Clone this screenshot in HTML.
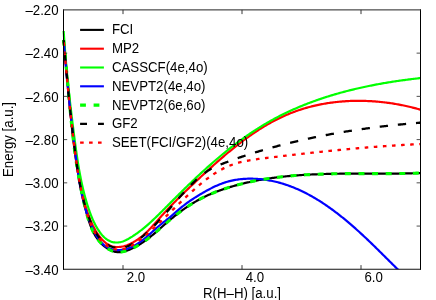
<!DOCTYPE html>
<html><head><meta charset="utf-8"><title>Chart</title><style>
html,body{margin:0;padding:0;background:#fff}
#w{position:relative;width:436px;height:300px;overflow:hidden;background:#fff}
</style></head><body><div id="w">
<svg width="436" height="300" viewBox="0 0 436 300" style="position:absolute;left:0;top:0">
<defs><clipPath id="c"><rect x="61.0" y="9.9" width="359.5" height="259.40000000000003"/></clipPath></defs>
<g clip-path="url(#c)" fill="none" stroke-width="2.2" stroke-linejoin="round">
<path d="M63.49 39.91 L63.62 41.02 L63.74 42.13 L63.86 43.25 L63.98 44.36 L64.10 45.47 L64.22 46.58 L64.34 47.69 L64.45 48.80 L64.57 49.91 L64.68 51.02 L64.79 52.13 L64.91 53.24 L65.02 54.35 L65.13 55.46 L65.24 56.56 L65.35 57.67 L65.45 58.78 L65.56 59.89 L65.67 60.99 L65.77 62.10 L65.88 63.20 L65.98 64.31 L66.09 65.41 L66.19 66.52 L66.29 67.62 L66.40 68.73 L66.50 69.83 L66.60 70.93 L66.70 72.04 L66.80 73.14 L66.90 74.24 L67.00 75.34 L67.10 76.45 L67.20 77.55 L67.30 78.65 L67.40 79.75 L67.50 80.85 L67.60 81.95 L67.70 83.05 L67.79 84.15 L67.89 85.25 L67.99 86.35 L68.09 87.45 L68.19 88.55 L68.29 89.64 L68.38 90.74 L68.48 91.84 L68.58 92.94 L68.68 94.03 L68.78 95.13 L68.88 96.23 L68.98 97.33 L69.07 98.42 L69.17 99.52 L69.27 100.61 L69.38 101.71 L69.48 102.81 L69.58 103.90 L69.68 105.00 L69.78 106.09 L69.88 107.19 L69.99 108.28 L70.09 109.37 L70.19 110.47 L70.30 111.56 L70.40 112.66 L70.51 113.75 L70.62 114.84 L70.72 115.94 L70.83 117.03 L70.94 118.12 L71.05 119.21 L71.16 120.31 L71.27 121.40 L71.38 122.49 L71.50 123.58 L71.61 124.68 L71.73 125.77 L71.84 126.86 L71.96 127.95 L72.08 129.04 L72.20 130.13 L72.32 131.23 L72.44 132.32 L72.56 133.41 L72.68 134.50 L72.81 135.59 L72.93 136.68 L73.06 137.77 L73.19 138.86 L73.32 139.95 L73.45 141.04 L73.58 142.13 L73.72 143.22 L73.85 144.31 L73.99 145.40 L74.13 146.49 L74.27 147.58 L74.41 148.67 L74.55 149.76 L74.70 150.85 L74.85 151.94 L74.99 153.03 L75.14 154.12 L75.30 155.21 L75.45 156.30 L75.60 157.39 L75.76 158.48 L75.92 159.57 L76.08 160.66 L76.24 161.75 L76.41 162.84 L76.57 163.93 L76.74 165.02 L76.91 166.11 L77.08 167.20 L77.26 168.29 L77.44 169.38 L77.61 170.47 L77.80 171.56 L77.98 172.65 L78.16 173.73 L78.35 174.82 L78.54 175.91 L78.73 177.00 L78.93 178.09 L79.12 179.18 L79.32 180.27 L79.52 181.36 L79.73 182.45 L79.93 183.54 L80.14 184.63 L80.35 185.73 L80.57 186.82 L80.79 187.91 L81.00 189.00 L81.23 190.09 L81.45 191.18 L81.68 192.27 L81.91 193.36 L82.14 194.45 L82.37 195.54 L82.61 196.63 L82.85 197.72 L83.10 198.82 L83.34 199.91 L83.59 201.00 L83.85 202.09 L84.10 203.18 L84.36 204.28 L84.62 205.37 L84.89 206.46 L85.15 207.55 L85.42 208.65 L85.70 209.74 L85.98 210.83 L86.26 211.92 L86.54 213.02 L86.83 214.11 L87.13 215.19 L87.44 216.28 L87.75 217.36 L88.07 218.44 L88.39 219.51 L88.73 220.58 L89.08 221.64 L89.43 222.70 L89.80 223.75 L90.18 224.79 L90.57 225.82 L90.97 226.85 L91.39 227.87 L91.82 228.88 L92.27 229.88 L92.73 230.87 L93.21 231.85 L93.71 232.81 L94.22 233.77 L94.75 234.71 L95.30 235.64 L95.86 236.56 L96.45 237.46 L97.06 238.35 L97.69 239.22 L98.34 240.08 L99.01 240.92 L99.71 241.74 L100.43 242.55 L101.17 243.34 L101.94 244.11 L102.73 244.86 L103.55 245.59 L104.40 246.30 L105.27 246.99 L106.17 247.65 L107.09 248.29 L108.03 248.89 L108.99 249.45 L109.97 249.97 L110.97 250.44 L111.98 250.86 L113.00 251.24 L114.03 251.55 L115.08 251.81 L116.13 252.00 L117.19 252.13 L118.26 252.18 L119.33 252.17 L120.40 252.10 L121.48 251.97 L122.55 251.79 L123.62 251.57 L124.69 251.30 L125.75 250.99 L126.81 250.64 L127.87 250.27 L128.91 249.87 L129.95 249.45 L130.97 249.01 L131.98 248.56 L132.99 248.09 L133.98 247.60 L134.96 247.10 L135.94 246.58 L136.90 246.05 L137.86 245.50 L138.81 244.94 L139.75 244.37 L140.69 243.79 L141.61 243.19 L142.53 242.58 L143.44 241.96 L144.35 241.33 L145.25 240.69 L146.14 240.04 L147.03 239.38 L147.91 238.71 L148.79 238.03 L149.66 237.35 L150.53 236.66 L151.39 235.96 L152.25 235.26 L153.11 234.55 L153.97 233.83 L154.82 233.11 L155.66 232.39 L156.51 231.66 L157.35 230.93 L158.20 230.20 L159.04 229.46 L159.88 228.73 L160.72 227.99 L161.55 227.25 L162.39 226.51 L163.23 225.77 L164.07 225.03 L164.91 224.29 L165.75 223.56 L166.59 222.82 L167.43 222.09 L168.28 221.36 L169.12 220.64 L169.97 219.92 L170.82 219.20 L171.68 218.49 L172.54 217.78 L173.40 217.08 L174.26 216.39 L175.13 215.69 L176.00 215.01 L176.87 214.32 L177.74 213.65 L178.62 212.98 L179.50 212.31 L180.39 211.65 L181.28 211.00 L182.17 210.35 L183.06 209.70 L183.96 209.07 L184.87 208.43 L185.77 207.81 L186.68 207.19 L187.59 206.58 L188.51 205.97 L189.43 205.37 L190.36 204.78 L191.29 204.19 L192.22 203.61 L193.16 203.04 L194.10 202.47 L195.04 201.91 L195.99 201.36 L196.94 200.81 L197.90 200.27 L198.86 199.74 L199.83 199.22 L200.80 198.70 L201.78 198.20 L202.76 197.69 L203.74 197.20 L204.73 196.72 L205.73 196.24 L206.73 195.77 L207.73 195.31 L208.74 194.86 L209.75 194.41 L210.77 193.98 L211.79 193.54 L212.81 193.12 L213.84 192.71 L214.87 192.30 L215.90 191.89 L216.94 191.50 L217.98 191.11 L219.02 190.73 L220.07 190.35 L221.12 189.98 L222.17 189.62 L223.22 189.26 L224.27 188.91 L225.33 188.56 L226.38 188.22 L227.44 187.88 L228.50 187.55 L229.56 187.23 L230.62 186.91 L231.68 186.59 L232.74 186.28 L233.80 185.98 L234.87 185.68 L235.93 185.38 L237.00 185.09 L238.06 184.81 L239.13 184.52 L240.20 184.25 L241.27 183.98 L242.34 183.71 L243.41 183.45 L244.48 183.19 L245.55 182.94 L246.63 182.69 L247.70 182.44 L248.77 182.20 L249.85 181.97 L250.93 181.74 L252.00 181.51 L253.08 181.29 L254.16 181.07 L255.24 180.85 L256.32 180.64 L257.40 180.44 L258.48 180.24 L259.56 180.04 L260.65 179.84 L261.73 179.65 L262.82 179.47 L263.90 179.29 L264.99 179.11 L266.07 178.93 L267.16 178.76 L268.25 178.59 L269.34 178.43 L270.42 178.27 L271.51 178.11 L272.60 177.96 L273.70 177.81 L274.79 177.67 L275.88 177.52 L276.97 177.38 L278.06 177.25 L279.16 177.12 L280.25 176.99 L281.35 176.86 L282.44 176.74 L283.54 176.62 L284.63 176.50 L285.73 176.39 L286.83 176.28 L287.92 176.17 L289.02 176.07 L290.12 175.96 L291.22 175.86 L292.32 175.77 L293.42 175.67 L294.52 175.58 L295.62 175.50 L296.72 175.41 L297.82 175.33 L298.92 175.25 L300.03 175.17 L301.13 175.10 L302.23 175.02 L303.33 174.95 L304.44 174.88 L305.54 174.82 L306.65 174.76 L307.75 174.69 L308.86 174.64 L309.96 174.58 L311.07 174.52 L312.17 174.47 L313.28 174.42 L314.39 174.37 L315.49 174.33 L316.60 174.28 L317.71 174.24 L318.81 174.20 L319.92 174.16 L321.03 174.12 L322.14 174.09 L323.24 174.05 L324.35 174.02 L325.46 173.99 L326.57 173.96 L327.68 173.94 L328.79 173.91 L329.90 173.89 L331.01 173.86 L332.11 173.84 L333.22 173.82 L334.33 173.80 L335.44 173.78 L336.55 173.77 L337.66 173.75 L338.77 173.74 L339.88 173.72 L340.99 173.71 L342.10 173.70 L343.21 173.69 L344.32 173.68 L345.43 173.67 L346.54 173.67 L347.65 173.66 L348.76 173.65 L349.87 173.65 L350.98 173.64 L352.09 173.64 L353.20 173.64 L354.31 173.63 L355.42 173.63 L356.53 173.63 L357.64 173.63 L358.75 173.63 L359.86 173.63 L360.97 173.63 L362.08 173.63 L363.19 173.63 L364.30 173.63 L365.41 173.63 L366.52 173.63 L367.62 173.63 L368.73 173.63 L369.84 173.63 L370.95 173.63 L372.06 173.63 L373.16 173.63 L374.27 173.64 L375.38 173.64 L376.48 173.64 L377.59 173.64 L378.70 173.64 L379.80 173.63 L380.91 173.63 L382.02 173.63 L383.12 173.63 L384.23 173.63 L385.33 173.62 L386.43 173.62 L387.54 173.62 L388.64 173.61 L389.75 173.61 L390.85 173.60 L391.95 173.59 L393.05 173.58 L394.16 173.57 L395.26 173.56 L396.36 173.55 L397.46 173.54 L398.56 173.53 L399.66 173.51 L400.76 173.50 L401.86 173.48 L402.96 173.47 L404.05 173.45 L405.15 173.43 L406.25 173.41 L407.35 173.38 L408.44 173.36 L409.54 173.33 L410.63 173.31 L411.73 173.28 L412.82 173.25 L413.92 173.22 L415.01 173.18 L416.10 173.15 L417.19 173.11 L418.28 173.07 L419.38 173.03 L420.47 172.99" stroke="#000" stroke-width="2.2"/>
<path d="M63.64 40.03 L63.75 41.18 L63.85 42.32 L63.95 43.47 L64.05 44.61 L64.16 45.76 L64.26 46.91 L64.36 48.06 L64.46 49.20 L64.57 50.35 L64.67 51.50 L64.77 52.65 L64.87 53.80 L64.98 54.95 L65.08 56.10 L65.18 57.25 L65.28 58.40 L65.38 59.55 L65.49 60.70 L65.59 61.85 L65.69 63.00 L65.80 64.15 L65.90 65.30 L66.00 66.45 L66.10 67.60 L66.21 68.75 L66.31 69.90 L66.42 71.05 L66.52 72.21 L66.62 73.36 L66.73 74.51 L66.83 75.66 L66.94 76.81 L67.04 77.97 L67.15 79.12 L67.26 80.27 L67.36 81.42 L67.47 82.58 L67.58 83.73 L67.68 84.88 L67.79 86.03 L67.90 87.19 L68.01 88.34 L68.12 89.49 L68.23 90.64 L68.34 91.80 L68.45 92.95 L68.56 94.10 L68.67 95.26 L68.78 96.41 L68.89 97.56 L69.01 98.71 L69.12 99.87 L69.23 101.02 L69.35 102.17 L69.46 103.33 L69.58 104.48 L69.70 105.63 L69.81 106.78 L69.93 107.93 L70.05 109.09 L70.17 110.24 L70.29 111.39 L70.41 112.54 L70.53 113.70 L70.65 114.85 L70.78 116.00 L70.90 117.15 L71.02 118.30 L71.15 119.45 L71.27 120.60 L71.40 121.76 L71.53 122.91 L71.66 124.06 L71.79 125.21 L71.92 126.36 L72.05 127.51 L72.18 128.66 L72.31 129.81 L72.45 130.96 L72.58 132.11 L72.72 133.26 L72.85 134.41 L72.99 135.55 L73.13 136.70 L73.27 137.85 L73.41 139.00 L73.55 140.15 L73.69 141.29 L73.84 142.44 L73.98 143.59 L74.13 144.73 L74.28 145.88 L74.43 147.03 L74.57 148.17 L74.73 149.32 L74.88 150.46 L75.03 151.61 L75.18 152.75 L75.34 153.90 L75.50 155.04 L75.65 156.19 L75.81 157.33 L75.97 158.47 L76.13 159.61 L76.30 160.76 L76.46 161.90 L76.63 163.04 L76.79 164.18 L76.96 165.32 L77.13 166.46 L77.31 167.60 L77.48 168.74 L77.66 169.88 L77.84 171.01 L78.03 172.15 L78.21 173.29 L78.40 174.42 L78.59 175.56 L78.79 176.69 L78.99 177.83 L79.19 178.96 L79.39 180.09 L79.60 181.22 L79.82 182.36 L80.03 183.48 L80.26 184.61 L80.48 185.74 L80.71 186.87 L80.95 187.99 L81.19 189.12 L81.44 190.24 L81.69 191.37 L81.94 192.49 L82.20 193.61 L82.47 194.73 L82.74 195.85 L83.02 196.97 L83.31 198.08 L83.60 199.20 L83.89 200.31 L84.20 201.43 L84.51 202.54 L84.82 203.65 L85.14 204.76 L85.47 205.86 L85.81 206.97 L86.16 208.08 L86.51 209.18 L86.87 210.28 L87.24 211.38 L87.61 212.48 L87.99 213.58 L88.38 214.68 L88.78 215.77 L89.19 216.86 L89.61 217.95 L90.04 219.04 L90.47 220.13 L90.93 221.21 L91.39 222.29 L91.87 223.36 L92.36 224.43 L92.86 225.49 L93.39 226.55 L93.93 227.60 L94.49 228.65 L95.07 229.68 L95.66 230.71 L96.28 231.73 L96.92 232.75 L97.59 233.75 L98.27 234.74 L98.98 235.72 L99.71 236.68 L100.47 237.62 L101.24 238.54 L102.04 239.42 L102.86 240.28 L103.69 241.10 L104.55 241.87 L105.43 242.61 L106.32 243.30 L107.23 243.94 L108.17 244.53 L109.11 245.05 L110.08 245.52 L111.06 245.92 L112.06 246.26 L113.07 246.53 L114.10 246.75 L115.14 246.90 L116.18 246.99 L117.24 247.03 L118.31 247.02 L119.38 246.95 L120.46 246.83 L121.55 246.67 L122.64 246.46 L123.73 246.20 L124.82 245.90 L125.91 245.55 L127.00 245.17 L128.08 244.75 L129.17 244.30 L130.25 243.81 L131.32 243.29 L132.38 242.74 L133.44 242.16 L134.48 241.56 L135.52 240.93 L136.54 240.28 L137.55 239.60 L138.54 238.91 L139.52 238.20 L140.48 237.48 L141.42 236.74 L142.35 235.98 L143.26 235.22 L144.15 234.44 L145.03 233.66 L145.90 232.86 L146.75 232.05 L147.59 231.24 L148.42 230.41 L149.24 229.58 L150.05 228.74 L150.85 227.90 L151.64 227.05 L152.43 226.20 L153.21 225.34 L153.99 224.48 L154.76 223.61 L155.52 222.75 L156.29 221.88 L157.05 221.02 L157.81 220.15 L158.57 219.29 L159.34 218.42 L160.10 217.56 L160.87 216.71 L161.63 215.85 L162.40 215.00 L163.18 214.15 L163.95 213.31 L164.73 212.46 L165.50 211.62 L166.28 210.79 L167.06 209.95 L167.85 209.12 L168.63 208.29 L169.42 207.46 L170.21 206.63 L171.00 205.81 L171.79 204.99 L172.59 204.17 L173.39 203.35 L174.18 202.54 L174.99 201.72 L175.79 200.91 L176.59 200.10 L177.40 199.29 L178.20 198.48 L179.01 197.68 L179.82 196.87 L180.64 196.07 L181.45 195.27 L182.26 194.47 L183.08 193.67 L183.90 192.87 L184.72 192.08 L185.54 191.28 L186.37 190.49 L187.19 189.69 L188.02 188.90 L188.85 188.11 L189.67 187.32 L190.51 186.53 L191.34 185.74 L192.17 184.95 L193.01 184.16 L193.84 183.37 L194.68 182.58 L195.52 181.79 L196.36 181.00 L197.20 180.22 L198.05 179.43 L198.89 178.64 L199.74 177.85 L200.58 177.06 L201.43 176.28 L202.28 175.49 L203.13 174.70 L203.99 173.91 L204.84 173.12 L205.70 172.34 L206.55 171.55 L207.41 170.77 L208.27 169.98 L209.13 169.20 L209.99 168.41 L210.86 167.63 L211.72 166.85 L212.59 166.07 L213.46 165.29 L214.33 164.51 L215.20 163.73 L216.07 162.95 L216.95 162.18 L217.83 161.41 L218.71 160.63 L219.59 159.86 L220.47 159.10 L221.35 158.33 L222.24 157.56 L223.12 156.80 L224.01 156.04 L224.91 155.28 L225.80 154.53 L226.69 153.77 L227.59 153.02 L228.49 152.27 L229.39 151.53 L230.29 150.78 L231.20 150.04 L232.10 149.30 L233.01 148.57 L233.92 147.84 L234.83 147.11 L235.75 146.38 L236.67 145.66 L237.59 144.94 L238.51 144.22 L239.43 143.51 L240.36 142.80 L241.28 142.09 L242.21 141.39 L243.14 140.69 L244.08 139.99 L245.02 139.30 L245.95 138.61 L246.90 137.93 L247.84 137.25 L248.79 136.58 L249.73 135.91 L250.68 135.24 L251.64 134.58 L252.59 133.92 L253.55 133.27 L254.51 132.62 L255.48 131.98 L256.44 131.34 L257.41 130.71 L258.38 130.08 L259.35 129.45 L260.33 128.84 L261.31 128.22 L262.29 127.62 L263.27 127.01 L264.26 126.42 L265.25 125.83 L266.24 125.24 L267.24 124.66 L268.23 124.09 L269.23 123.52 L270.24 122.96 L271.24 122.40 L272.25 121.85 L273.26 121.31 L274.28 120.77 L275.29 120.24 L276.31 119.71 L277.34 119.19 L278.36 118.68 L279.39 118.18 L280.42 117.68 L281.46 117.19 L282.50 116.70 L283.54 116.23 L284.58 115.75 L285.63 115.29 L286.68 114.84 L287.74 114.39 L288.79 113.95 L289.85 113.51 L290.92 113.08 L291.98 112.67 L293.05 112.26 L294.13 111.85 L295.20 111.46 L296.28 111.07 L297.36 110.69 L298.45 110.31 L299.54 109.95 L300.63 109.59 L301.72 109.24 L302.82 108.90 L303.92 108.56 L305.02 108.23 L306.12 107.91 L307.23 107.60 L308.34 107.29 L309.45 107.00 L310.56 106.71 L311.68 106.42 L312.80 106.14 L313.92 105.88 L315.04 105.61 L316.17 105.36 L317.30 105.11 L318.42 104.87 L319.56 104.64 L320.69 104.41 L321.82 104.19 L322.96 103.98 L324.10 103.78 L325.24 103.58 L326.38 103.39 L327.52 103.20 L328.67 103.03 L329.81 102.86 L330.96 102.70 L332.11 102.54 L333.26 102.39 L334.41 102.25 L335.56 102.11 L336.72 101.98 L337.87 101.86 L339.03 101.75 L340.18 101.64 L341.34 101.54 L342.50 101.45 L343.66 101.36 L344.82 101.28 L345.98 101.20 L347.14 101.13 L348.30 101.07 L349.46 101.02 L350.63 100.97 L351.79 100.93 L352.95 100.90 L354.12 100.87 L355.28 100.85 L356.45 100.83 L357.61 100.82 L358.78 100.82 L359.94 100.82 L361.11 100.83 L362.27 100.85 L363.44 100.87 L364.60 100.90 L365.76 100.94 L366.93 100.98 L368.09 101.03 L369.25 101.08 L370.42 101.14 L371.58 101.21 L372.74 101.28 L373.90 101.36 L375.06 101.45 L376.22 101.54 L377.38 101.64 L378.54 101.74 L379.70 101.85 L380.85 101.97 L382.01 102.09 L383.16 102.22 L384.32 102.35 L385.47 102.49 L386.62 102.64 L387.77 102.79 L388.92 102.95 L390.07 103.11 L391.21 103.28 L392.36 103.45 L393.50 103.63 L394.64 103.82 L395.78 104.01 L396.92 104.21 L398.06 104.41 L399.19 104.62 L400.32 104.84 L401.45 105.06 L402.58 105.29 L403.71 105.52 L404.83 105.76 L405.96 106.00 L407.08 106.25 L408.19 106.50 L409.31 106.76 L410.42 107.03 L411.54 107.30 L412.64 107.57 L413.75 107.85 L414.85 108.14 L415.96 108.43 L417.05 108.73 L418.15 109.03 L419.24 109.34 L420.33 109.65" stroke="#f00" stroke-width="2.2"/>
<path d="M63.65 30.99 L63.73 32.16 L63.80 33.32 L63.88 34.49 L63.96 35.66 L64.04 36.82 L64.12 37.99 L64.20 39.15 L64.28 40.32 L64.37 41.48 L64.45 42.65 L64.54 43.81 L64.62 44.97 L64.71 46.14 L64.80 47.30 L64.89 48.46 L64.98 49.62 L65.07 50.79 L65.16 51.95 L65.26 53.11 L65.35 54.27 L65.45 55.43 L65.54 56.59 L65.64 57.75 L65.74 58.91 L65.84 60.07 L65.94 61.23 L66.04 62.39 L66.14 63.55 L66.24 64.71 L66.35 65.87 L66.45 67.03 L66.56 68.19 L66.66 69.35 L66.77 70.51 L66.88 71.67 L66.99 72.83 L67.10 73.98 L67.21 75.14 L67.32 76.30 L67.44 77.46 L67.55 78.61 L67.67 79.77 L67.78 80.93 L67.90 82.09 L68.01 83.24 L68.13 84.40 L68.25 85.56 L68.37 86.71 L68.49 87.87 L68.61 89.03 L68.74 90.18 L68.86 91.34 L68.98 92.50 L69.11 93.65 L69.23 94.81 L69.36 95.97 L69.49 97.12 L69.61 98.28 L69.74 99.43 L69.87 100.59 L70.00 101.75 L70.13 102.90 L70.26 104.06 L70.40 105.21 L70.53 106.37 L70.66 107.53 L70.80 108.68 L70.93 109.84 L71.07 110.99 L71.21 112.15 L71.34 113.31 L71.48 114.46 L71.62 115.62 L71.76 116.77 L71.90 117.93 L72.04 119.09 L72.18 120.24 L72.32 121.40 L72.47 122.56 L72.61 123.71 L72.76 124.87 L72.90 126.02 L73.05 127.18 L73.19 128.34 L73.34 129.50 L73.49 130.65 L73.63 131.81 L73.78 132.97 L73.93 134.12 L74.08 135.28 L74.23 136.44 L74.38 137.60 L74.54 138.76 L74.69 139.91 L74.84 141.07 L75.00 142.23 L75.15 143.39 L75.31 144.55 L75.46 145.71 L75.62 146.86 L75.78 148.02 L75.94 149.18 L76.10 150.34 L76.27 151.49 L76.43 152.65 L76.60 153.81 L76.77 154.97 L76.94 156.12 L77.11 157.28 L77.28 158.43 L77.46 159.59 L77.64 160.74 L77.82 161.90 L78.00 163.05 L78.19 164.20 L78.38 165.35 L78.57 166.51 L78.77 167.66 L78.96 168.81 L79.16 169.95 L79.37 171.10 L79.57 172.25 L79.79 173.39 L80.00 174.54 L80.22 175.68 L80.44 176.83 L80.66 177.97 L80.89 179.11 L81.12 180.25 L81.36 181.39 L81.60 182.52 L81.84 183.66 L82.09 184.79 L82.35 185.93 L82.60 187.06 L82.87 188.19 L83.13 189.32 L83.40 190.45 L83.68 191.57 L83.96 192.70 L84.25 193.82 L84.54 194.94 L84.84 196.06 L85.14 197.18 L85.45 198.29 L85.76 199.41 L86.08 200.52 L86.40 201.63 L86.73 202.74 L87.07 203.84 L87.41 204.95 L87.76 206.05 L88.12 207.15 L88.48 208.24 L88.84 209.34 L89.22 210.43 L89.60 211.53 L89.99 212.61 L90.39 213.70 L90.80 214.78 L91.22 215.87 L91.65 216.95 L92.09 218.02 L92.55 219.10 L93.03 220.17 L93.52 221.24 L94.02 222.30 L94.55 223.36 L95.09 224.42 L95.65 225.48 L96.23 226.53 L96.84 227.58 L97.46 228.63 L98.11 229.67 L98.78 230.70 L99.47 231.72 L100.19 232.71 L100.93 233.68 L101.69 234.62 L102.48 235.53 L103.30 236.40 L104.14 237.23 L105.00 238.01 L105.89 238.75 L106.81 239.43 L107.75 240.05 L108.72 240.60 L109.72 241.09 L110.75 241.51 L111.80 241.85 L112.87 242.12 L113.96 242.31 L115.07 242.44 L116.18 242.50 L117.31 242.49 L118.43 242.41 L119.56 242.26 L120.68 242.05 L121.79 241.77 L122.89 241.44 L123.97 241.04 L125.04 240.59 L126.10 240.09 L127.14 239.55 L128.17 238.99 L129.19 238.40 L130.20 237.79 L131.20 237.18 L132.20 236.56 L133.18 235.92 L134.16 235.28 L135.13 234.62 L136.09 233.96 L137.04 233.28 L137.99 232.60 L138.92 231.91 L139.86 231.21 L140.78 230.50 L141.70 229.78 L142.61 229.06 L143.52 228.33 L144.42 227.59 L145.31 226.85 L146.20 226.09 L147.08 225.33 L147.96 224.57 L148.84 223.80 L149.71 223.02 L150.57 222.24 L151.43 221.46 L152.29 220.67 L153.14 219.87 L153.99 219.07 L154.84 218.27 L155.68 217.46 L156.52 216.65 L157.36 215.84 L158.20 215.02 L159.03 214.20 L159.86 213.38 L160.69 212.56 L161.52 211.73 L162.35 210.91 L163.17 210.08 L164.00 209.25 L164.82 208.42 L165.65 207.59 L166.47 206.76 L167.29 205.93 L168.12 205.10 L168.94 204.28 L169.77 203.45 L170.59 202.62 L171.42 201.79 L172.24 200.97 L173.07 200.14 L173.90 199.31 L174.72 198.49 L175.55 197.66 L176.38 196.84 L177.21 196.02 L178.04 195.20 L178.87 194.38 L179.70 193.56 L180.53 192.74 L181.36 191.92 L182.19 191.10 L183.02 190.28 L183.86 189.47 L184.69 188.65 L185.53 187.84 L186.37 187.03 L187.20 186.21 L188.04 185.40 L188.88 184.60 L189.72 183.79 L190.56 182.98 L191.40 182.18 L192.25 181.37 L193.09 180.57 L193.94 179.77 L194.78 178.97 L195.63 178.17 L196.48 177.37 L197.33 176.57 L198.18 175.78 L199.03 174.99 L199.88 174.19 L200.74 173.41 L201.60 172.62 L202.45 171.83 L203.31 171.05 L204.17 170.26 L205.03 169.48 L205.90 168.70 L206.76 167.92 L207.63 167.15 L208.50 166.37 L209.37 165.60 L210.24 164.83 L211.11 164.06 L211.98 163.29 L212.86 162.53 L213.74 161.77 L214.62 161.00 L215.50 160.25 L216.38 159.49 L217.27 158.73 L218.15 157.98 L219.04 157.23 L219.93 156.48 L220.83 155.74 L221.72 155.00 L222.62 154.25 L223.52 153.52 L224.42 152.78 L225.32 152.05 L226.22 151.31 L227.13 150.58 L228.04 149.86 L228.95 149.13 L229.86 148.41 L230.78 147.69 L231.70 146.98 L232.62 146.26 L233.54 145.55 L234.46 144.84 L235.39 144.14 L236.32 143.44 L237.25 142.74 L238.18 142.04 L239.12 141.35 L240.06 140.66 L241.00 139.97 L241.94 139.29 L242.88 138.61 L243.83 137.93 L244.78 137.25 L245.73 136.58 L246.68 135.92 L247.64 135.25 L248.60 134.59 L249.56 133.93 L250.52 133.28 L251.49 132.63 L252.45 131.98 L253.42 131.34 L254.40 130.70 L255.37 130.07 L256.35 129.44 L257.33 128.81 L258.31 128.19 L259.29 127.57 L260.28 126.95 L261.27 126.34 L262.26 125.74 L263.25 125.13 L264.25 124.53 L265.25 123.94 L266.25 123.35 L267.26 122.76 L268.26 122.18 L269.27 121.61 L270.28 121.03 L271.30 120.47 L272.31 119.90 L273.33 119.35 L274.35 118.79 L275.38 118.24 L276.40 117.70 L277.43 117.16 L278.46 116.62 L279.49 116.09 L280.53 115.56 L281.57 115.04 L282.61 114.52 L283.65 114.01 L284.69 113.50 L285.74 112.99 L286.79 112.49 L287.84 111.99 L288.89 111.50 L289.95 111.01 L291.00 110.53 L292.06 110.05 L293.13 109.57 L294.19 109.10 L295.25 108.64 L296.32 108.17 L297.39 107.71 L298.46 107.26 L299.53 106.81 L300.61 106.36 L301.69 105.92 L302.76 105.48 L303.84 105.04 L304.93 104.61 L306.01 104.19 L307.10 103.76 L308.18 103.34 L309.27 102.93 L310.36 102.52 L311.46 102.11 L312.55 101.71 L313.64 101.31 L314.74 100.91 L315.84 100.52 L316.94 100.13 L318.04 99.75 L319.14 99.37 L320.25 98.99 L321.35 98.62 L322.46 98.25 L323.57 97.88 L324.68 97.52 L325.79 97.16 L326.90 96.80 L328.02 96.45 L329.13 96.10 L330.25 95.76 L331.37 95.42 L332.49 95.08 L333.61 94.75 L334.73 94.42 L335.85 94.09 L336.97 93.76 L338.10 93.44 L339.22 93.13 L340.35 92.81 L341.48 92.50 L342.61 92.20 L343.74 91.89 L344.87 91.59 L346.00 91.30 L347.13 91.00 L348.26 90.71 L349.40 90.42 L350.53 90.14 L351.67 89.86 L352.80 89.58 L353.94 89.31 L355.08 89.03 L356.22 88.77 L357.36 88.50 L358.50 88.24 L359.64 87.98 L360.78 87.72 L361.92 87.47 L363.06 87.22 L364.21 86.97 L365.35 86.73 L366.49 86.49 L367.64 86.25 L368.78 86.01 L369.93 85.78 L371.07 85.55 L372.22 85.32 L373.36 85.10 L374.51 84.88 L375.66 84.66 L376.81 84.44 L377.95 84.23 L379.10 84.02 L380.25 83.81 L381.40 83.61 L382.55 83.40 L383.69 83.20 L384.84 83.01 L385.99 82.81 L387.14 82.62 L388.29 82.43 L389.44 82.24 L390.59 82.06 L391.74 81.88 L392.88 81.70 L394.03 81.52 L395.18 81.35 L396.33 81.17 L397.48 81.00 L398.63 80.84 L399.78 80.67 L400.92 80.51 L402.07 80.35 L403.22 80.19 L404.37 80.04 L405.51 79.88 L406.66 79.73 L407.81 79.58 L408.95 79.44 L410.10 79.29 L411.24 79.15 L412.39 79.01 L413.53 78.87 L414.67 78.74 L415.82 78.60 L416.96 78.47 L418.10 78.34 L419.24 78.21 L420.38 78.09" stroke="#0f0" stroke-width="2.2"/>
<path d="M63.72 40.04 L63.81 41.18 L63.89 42.32 L63.98 43.47 L64.07 44.61 L64.15 45.76 L64.24 46.90 L64.33 48.05 L64.42 49.19 L64.51 50.34 L64.60 51.48 L64.69 52.63 L64.79 53.77 L64.88 54.92 L64.98 56.07 L65.07 57.22 L65.17 58.36 L65.26 59.51 L65.36 60.66 L65.46 61.81 L65.56 62.96 L65.66 64.10 L65.76 65.25 L65.86 66.40 L65.96 67.55 L66.07 68.70 L66.17 69.85 L66.28 71.00 L66.38 72.15 L66.49 73.30 L66.59 74.45 L66.70 75.60 L66.81 76.75 L66.92 77.91 L67.03 79.06 L67.14 80.21 L67.25 81.36 L67.36 82.51 L67.47 83.66 L67.58 84.81 L67.70 85.97 L67.81 87.12 L67.93 88.27 L68.04 89.42 L68.16 90.57 L68.27 91.73 L68.39 92.88 L68.51 94.03 L68.63 95.18 L68.75 96.33 L68.87 97.49 L68.99 98.64 L69.11 99.79 L69.23 100.94 L69.35 102.09 L69.48 103.25 L69.60 104.40 L69.72 105.55 L69.85 106.70 L69.98 107.85 L70.10 109.01 L70.23 110.16 L70.36 111.31 L70.48 112.46 L70.61 113.61 L70.74 114.76 L70.87 115.91 L71.00 117.07 L71.13 118.22 L71.26 119.37 L71.39 120.52 L71.53 121.67 L71.66 122.82 L71.79 123.97 L71.93 125.12 L72.06 126.27 L72.20 127.42 L72.33 128.57 L72.47 129.72 L72.61 130.86 L72.74 132.01 L72.88 133.16 L73.02 134.31 L73.16 135.46 L73.30 136.61 L73.44 137.75 L73.58 138.90 L73.72 140.05 L73.86 141.19 L74.00 142.34 L74.14 143.49 L74.29 144.63 L74.43 145.78 L74.57 146.92 L74.72 148.07 L74.86 149.21 L75.01 150.36 L75.15 151.50 L75.30 152.64 L75.45 153.79 L75.59 154.93 L75.74 156.07 L75.89 157.21 L76.04 158.35 L76.19 159.49 L76.33 160.63 L76.48 161.77 L76.63 162.91 L76.79 164.05 L76.94 165.19 L77.09 166.33 L77.25 167.47 L77.40 168.60 L77.56 169.74 L77.72 170.88 L77.88 172.01 L78.05 173.15 L78.21 174.28 L78.38 175.42 L78.55 176.55 L78.73 177.68 L78.91 178.82 L79.09 179.95 L79.27 181.08 L79.46 182.21 L79.65 183.34 L79.85 184.47 L80.05 185.60 L80.25 186.73 L80.46 187.85 L80.68 188.98 L80.90 190.11 L81.12 191.23 L81.35 192.36 L81.58 193.48 L81.82 194.60 L82.07 195.73 L82.32 196.85 L82.58 197.97 L82.84 199.09 L83.11 200.21 L83.39 201.33 L83.67 202.45 L83.96 203.56 L84.26 204.68 L84.57 205.80 L84.88 206.91 L85.20 208.02 L85.53 209.14 L85.86 210.25 L86.21 211.36 L86.56 212.47 L86.92 213.58 L87.29 214.69 L87.67 215.80 L88.05 216.91 L88.45 218.01 L88.86 219.12 L89.27 220.22 L89.70 221.33 L90.13 222.43 L90.58 223.53 L91.03 224.63 L91.50 225.73 L91.98 226.83 L92.46 227.93 L92.96 229.02 L93.47 230.11 L94.00 231.19 L94.54 232.26 L95.09 233.33 L95.66 234.37 L96.25 235.41 L96.85 236.42 L97.47 237.42 L98.11 238.39 L98.78 239.34 L99.46 240.26 L100.16 241.15 L100.89 242.01 L101.64 242.84 L102.41 243.63 L103.21 244.39 L104.04 245.11 L104.89 245.78 L105.77 246.42 L106.68 247.00 L107.62 247.54 L108.59 248.03 L109.59 248.47 L110.62 248.85 L111.69 249.17 L112.77 249.45 L113.88 249.67 L115.01 249.84 L116.15 249.96 L117.31 250.03 L118.46 250.05 L119.62 250.02 L120.78 249.95 L121.93 249.84 L123.06 249.68 L124.19 249.48 L125.30 249.24 L126.40 248.95 L127.48 248.63 L128.55 248.28 L129.61 247.89 L130.66 247.46 L131.69 247.00 L132.72 246.52 L133.73 246.00 L134.74 245.45 L135.73 244.88 L136.72 244.29 L137.69 243.67 L138.66 243.02 L139.62 242.36 L140.57 241.68 L141.52 240.98 L142.46 240.26 L143.39 239.53 L144.31 238.79 L145.23 238.03 L146.15 237.27 L147.06 236.49 L147.96 235.71 L148.86 234.92 L149.76 234.13 L150.65 233.33 L151.54 232.53 L152.43 231.74 L153.32 230.94 L154.20 230.15 L155.08 229.35 L155.97 228.57 L156.85 227.79 L157.73 227.02 L158.61 226.26 L159.50 225.52 L160.38 224.78 L161.27 224.06 L162.15 223.35 L163.04 222.65 L163.93 221.95 L164.81 221.26 L165.70 220.58 L166.58 219.89 L167.46 219.20 L168.34 218.50 L169.21 217.80 L170.08 217.09 L170.95 216.37 L171.81 215.65 L172.67 214.91 L173.53 214.17 L174.39 213.43 L175.25 212.68 L176.10 211.93 L176.97 211.18 L177.83 210.42 L178.70 209.67 L179.57 208.93 L180.44 208.18 L181.32 207.44 L182.21 206.71 L183.11 205.98 L184.01 205.27 L184.92 204.56 L185.84 203.86 L186.77 203.17 L187.71 202.49 L188.66 201.82 L189.61 201.15 L190.57 200.50 L191.53 199.85 L192.50 199.21 L193.47 198.57 L194.45 197.94 L195.44 197.32 L196.42 196.70 L197.41 196.09 L198.41 195.48 L199.40 194.88 L200.40 194.28 L201.40 193.69 L202.40 193.10 L203.40 192.52 L204.40 191.94 L205.41 191.37 L206.42 190.80 L207.43 190.25 L208.45 189.70 L209.47 189.16 L210.49 188.63 L211.52 188.11 L212.55 187.59 L213.58 187.09 L214.61 186.60 L215.66 186.12 L216.70 185.65 L217.75 185.20 L218.81 184.75 L219.86 184.32 L220.93 183.91 L222.00 183.51 L223.07 183.12 L224.15 182.75 L225.24 182.39 L226.33 182.05 L227.43 181.73 L228.53 181.42 L229.64 181.14 L230.76 180.86 L231.88 180.61 L233.01 180.37 L234.14 180.15 L235.27 179.95 L236.41 179.76 L237.56 179.58 L238.70 179.43 L239.85 179.28 L241.01 179.16 L242.16 179.05 L243.32 178.95 L244.48 178.87 L245.65 178.80 L246.81 178.75 L247.98 178.72 L249.14 178.69 L250.31 178.68 L251.48 178.69 L252.65 178.71 L253.82 178.74 L254.98 178.79 L256.15 178.85 L257.32 178.92 L258.48 179.01 L259.65 179.11 L260.81 179.22 L261.97 179.34 L263.13 179.48 L264.28 179.63 L265.43 179.79 L266.58 179.96 L267.72 180.14 L268.87 180.34 L270.00 180.55 L271.14 180.77 L272.27 181.00 L273.40 181.24 L274.52 181.49 L275.64 181.75 L276.76 182.02 L277.87 182.31 L278.98 182.60 L280.09 182.91 L281.19 183.22 L282.29 183.55 L283.39 183.88 L284.48 184.23 L285.57 184.59 L286.66 184.95 L287.74 185.33 L288.82 185.71 L289.90 186.10 L290.97 186.51 L292.04 186.92 L293.11 187.34 L294.17 187.77 L295.23 188.21 L296.29 188.65 L297.34 189.11 L298.39 189.57 L299.43 190.04 L300.48 190.52 L301.52 191.01 L302.55 191.51 L303.58 192.01 L304.61 192.53 L305.64 193.05 L306.66 193.57 L307.68 194.11 L308.70 194.65 L309.71 195.20 L310.72 195.75 L311.72 196.32 L312.73 196.88 L313.72 197.46 L314.72 198.04 L315.71 198.63 L316.70 199.23 L317.69 199.83 L318.67 200.44 L319.65 201.05 L320.62 201.67 L321.60 202.29 L322.57 202.92 L323.53 203.56 L324.50 204.20 L325.45 204.85 L326.41 205.50 L327.36 206.16 L328.31 206.82 L329.26 207.48 L330.20 208.15 L331.14 208.83 L332.08 209.51 L333.01 210.19 L333.94 210.88 L334.87 211.58 L335.79 212.27 L336.71 212.97 L337.63 213.68 L338.54 214.38 L339.45 215.09 L340.36 215.81 L341.26 216.53 L342.16 217.25 L343.06 217.97 L343.96 218.70 L344.85 219.43 L345.74 220.17 L346.63 220.90 L347.51 221.64 L348.39 222.39 L349.27 223.13 L350.15 223.88 L351.02 224.63 L351.89 225.39 L352.76 226.15 L353.63 226.91 L354.50 227.67 L355.36 228.43 L356.22 229.20 L357.08 229.97 L357.93 230.74 L358.79 231.52 L359.64 232.29 L360.49 233.07 L361.34 233.85 L362.18 234.63 L363.03 235.42 L363.87 236.20 L364.71 236.99 L365.56 237.78 L366.39 238.57 L367.23 239.37 L368.07 240.16 L368.90 240.96 L369.73 241.76 L370.57 242.56 L371.40 243.36 L372.23 244.16 L373.06 244.96 L373.88 245.77 L374.71 246.57 L375.54 247.38 L376.36 248.18 L377.18 248.99 L378.01 249.80 L378.83 250.61 L379.65 251.42 L380.47 252.23 L381.29 253.05 L382.12 253.86 L382.94 254.67 L383.75 255.48 L384.57 256.30 L385.39 257.11 L386.21 257.93 L387.03 258.74 L387.85 259.56 L388.67 260.37 L389.49 261.19 L390.30 262.00 L391.12 262.82 L391.94 263.63 L392.76 264.45 L393.58 265.26 L394.40 266.07 L395.22 266.89 L396.04 267.70 L396.86 268.51 L397.68 269.32 L398.51 270.14 L399.33 270.95 L400.15 271.76 L400.98 272.56 L401.80 273.37 L402.63 274.18 L403.45 274.99 L404.28 275.79 L405.11 276.59 L405.94 277.40 L406.77 278.20 L407.60 279.00 L408.44 279.80 L409.27 280.60 L410.11 281.39" stroke="#00f" stroke-width="2.2"/>
<path d="M63.49 39.91 L63.62 41.02 L63.74 42.13 L63.86 43.25 L63.98 44.36 L64.10 45.47 L64.22 46.58 L64.34 47.69 L64.45 48.80 L64.57 49.91 L64.68 51.02 L64.79 52.13 L64.91 53.24 L65.02 54.35 L65.13 55.46 L65.24 56.56 L65.35 57.67 L65.45 58.78 L65.56 59.89 L65.67 60.99 L65.77 62.10 L65.88 63.20 L65.98 64.31 L66.09 65.41 L66.19 66.52 L66.29 67.62 L66.40 68.73 L66.50 69.83 L66.60 70.93 L66.70 72.04 L66.80 73.14 L66.90 74.24 L67.00 75.34 L67.10 76.45 L67.20 77.55 L67.30 78.65 L67.40 79.75 L67.50 80.85 L67.60 81.95 L67.70 83.05 L67.79 84.15 L67.89 85.25 L67.99 86.35 L68.09 87.45 L68.19 88.55 L68.29 89.64 L68.38 90.74 L68.48 91.84 L68.58 92.94 L68.68 94.03 L68.78 95.13 L68.88 96.23 L68.98 97.33 L69.07 98.42 L69.17 99.52 L69.27 100.61 L69.38 101.71 L69.48 102.81 L69.58 103.90 L69.68 105.00 L69.78 106.09 L69.88 107.19 L69.99 108.28 L70.09 109.37 L70.19 110.47 L70.30 111.56 L70.40 112.66 L70.51 113.75 L70.62 114.84 L70.72 115.94 L70.83 117.03 L70.94 118.12 L71.05 119.21 L71.16 120.31 L71.27 121.40 L71.38 122.49 L71.50 123.58 L71.61 124.68 L71.73 125.77 L71.84 126.86 L71.96 127.95 L72.08 129.04 L72.20 130.13 L72.32 131.23 L72.44 132.32 L72.56 133.41 L72.68 134.50 L72.81 135.59 L72.93 136.68 L73.06 137.77 L73.19 138.86 L73.32 139.95 L73.45 141.04 L73.58 142.13 L73.72 143.22 L73.85 144.31 L73.99 145.40 L74.13 146.49 L74.27 147.58 L74.41 148.67 L74.55 149.76 L74.70 150.85 L74.85 151.94 L74.99 153.03 L75.14 154.12 L75.30 155.21 L75.45 156.30 L75.60 157.39 L75.76 158.48 L75.92 159.57 L76.08 160.66 L76.24 161.75 L76.41 162.84 L76.57 163.93 L76.74 165.02 L76.91 166.11 L77.08 167.20 L77.26 168.29 L77.44 169.38 L77.61 170.47 L77.80 171.56 L77.98 172.65 L78.16 173.73 L78.35 174.82 L78.54 175.91 L78.73 177.00 L78.93 178.09 L79.12 179.18 L79.32 180.27 L79.52 181.36 L79.73 182.45 L79.93 183.54 L80.14 184.63 L80.35 185.73 L80.57 186.82 L80.79 187.91 L81.00 189.00 L81.23 190.09 L81.45 191.18 L81.68 192.27 L81.91 193.36 L82.14 194.45 L82.37 195.54 L82.61 196.63 L82.85 197.72 L83.10 198.82 L83.34 199.91 L83.59 201.00 L83.85 202.09 L84.10 203.18 L84.36 204.28 L84.62 205.37 L84.89 206.46 L85.15 207.55 L85.42 208.65 L85.70 209.74 L85.98 210.83 L86.26 211.92 L86.54 213.02 L86.83 214.11 L87.13 215.19 L87.44 216.28 L87.75 217.36 L88.07 218.44 L88.39 219.51 L88.73 220.58 L89.08 221.64 L89.43 222.70 L89.80 223.75 L90.18 224.79 L90.57 225.82 L90.97 226.85 L91.39 227.87 L91.82 228.88 L92.27 229.88 L92.73 230.87 L93.21 231.85 L93.71 232.81 L94.22 233.77 L94.75 234.71 L95.30 235.64 L95.86 236.56 L96.45 237.46 L97.06 238.35 L97.69 239.22 L98.34 240.08 L99.01 240.92 L99.71 241.74 L100.43 242.55 L101.17 243.34 L101.94 244.11 L102.73 244.86 L103.55 245.59 L104.40 246.30 L105.27 246.99 L106.17 247.65 L107.09 248.29 L108.03 248.89 L108.99 249.45 L109.97 249.97 L110.97 250.44 L111.98 250.86 L113.00 251.24 L114.03 251.55 L115.08 251.81 L116.13 252.00 L117.19 252.13 L118.26 252.18 L119.33 252.17 L120.40 252.10 L121.48 251.97 L122.55 251.79 L123.62 251.57 L124.69 251.30 L125.75 250.99 L126.81 250.64 L127.87 250.27 L128.91 249.87 L129.95 249.45 L130.97 249.01 L131.98 248.56 L132.99 248.09 L133.98 247.60 L134.96 247.10 L135.94 246.58 L136.90 246.05 L137.86 245.50 L138.81 244.94 L139.75 244.37 L140.69 243.79 L141.61 243.19 L142.53 242.58 L143.44 241.96 L144.35 241.33 L145.25 240.69 L146.14 240.04 L147.03 239.38 L147.91 238.71 L148.79 238.03 L149.66 237.35 L150.53 236.66 L151.39 235.96 L152.25 235.26 L153.11 234.55 L153.97 233.83 L154.82 233.11 L155.66 232.39 L156.51 231.66 L157.35 230.93 L158.20 230.20 L159.04 229.46 L159.88 228.73 L160.72 227.99 L161.55 227.25 L162.39 226.51 L163.23 225.77 L164.07 225.03 L164.91 224.29 L165.75 223.56 L166.59 222.82 L167.43 222.09 L168.28 221.36 L169.12 220.64 L169.97 219.92 L170.82 219.20 L171.68 218.49 L172.54 217.78 L173.40 217.08 L174.26 216.39 L175.13 215.69 L176.00 215.01 L176.87 214.32 L177.74 213.65 L178.62 212.98 L179.50 212.31 L180.39 211.65 L181.28 211.00 L182.17 210.35 L183.06 209.70 L183.96 209.07 L184.87 208.43 L185.77 207.81 L186.68 207.19 L187.59 206.58 L188.51 205.97 L189.43 205.37 L190.36 204.78 L191.29 204.19 L192.22 203.61 L193.16 203.04 L194.10 202.47 L195.04 201.91 L195.99 201.36 L196.94 200.81 L197.90 200.27 L198.86 199.74 L199.83 199.22 L200.80 198.70 L201.78 198.20 L202.76 197.69 L203.74 197.20 L204.73 196.72 L205.73 196.24 L206.73 195.77 L207.73 195.31 L208.74 194.86 L209.75 194.41 L210.77 193.98 L211.79 193.54 L212.81 193.12 L213.84 192.71 L214.87 192.30 L215.90 191.89 L216.94 191.50 L217.98 191.11 L219.02 190.73 L220.07 190.35 L221.12 189.98 L222.17 189.62 L223.22 189.26 L224.27 188.91 L225.33 188.56 L226.38 188.22 L227.44 187.88 L228.50 187.55 L229.56 187.23 L230.62 186.91 L231.68 186.59 L232.74 186.28 L233.80 185.98 L234.87 185.68 L235.93 185.38 L237.00 185.09 L238.06 184.81 L239.13 184.52 L240.20 184.25 L241.27 183.98 L242.34 183.71 L243.41 183.45 L244.48 183.19 L245.55 182.94 L246.63 182.69 L247.70 182.44 L248.77 182.20 L249.85 181.97 L250.93 181.74 L252.00 181.51 L253.08 181.29 L254.16 181.07 L255.24 180.85 L256.32 180.64 L257.40 180.44 L258.48 180.24 L259.56 180.04 L260.65 179.84 L261.73 179.65 L262.82 179.47 L263.90 179.29 L264.99 179.11 L266.07 178.93 L267.16 178.76 L268.25 178.59 L269.34 178.43 L270.42 178.27 L271.51 178.11 L272.60 177.96 L273.70 177.81 L274.79 177.67 L275.88 177.52 L276.97 177.38 L278.06 177.25 L279.16 177.12 L280.25 176.99 L281.35 176.86 L282.44 176.74 L283.54 176.62 L284.63 176.50 L285.73 176.39 L286.83 176.28 L287.92 176.17 L289.02 176.07 L290.12 175.96 L291.22 175.86 L292.32 175.77 L293.42 175.67 L294.52 175.58 L295.62 175.50 L296.72 175.41 L297.82 175.33 L298.92 175.25 L300.03 175.17 L301.13 175.10 L302.23 175.02 L303.33 174.95 L304.44 174.88 L305.54 174.82 L306.65 174.76 L307.75 174.69 L308.86 174.64 L309.96 174.58 L311.07 174.52 L312.17 174.47 L313.28 174.42 L314.39 174.37 L315.49 174.33 L316.60 174.28 L317.71 174.24 L318.81 174.20 L319.92 174.16 L321.03 174.12 L322.14 174.09 L323.24 174.05 L324.35 174.02 L325.46 173.99 L326.57 173.96 L327.68 173.94 L328.79 173.91 L329.90 173.89 L331.01 173.86 L332.11 173.84 L333.22 173.82 L334.33 173.80 L335.44 173.78 L336.55 173.77 L337.66 173.75 L338.77 173.74 L339.88 173.72 L340.99 173.71 L342.10 173.70 L343.21 173.69 L344.32 173.68 L345.43 173.67 L346.54 173.67 L347.65 173.66 L348.76 173.65 L349.87 173.65 L350.98 173.64 L352.09 173.64 L353.20 173.64 L354.31 173.63 L355.42 173.63 L356.53 173.63 L357.64 173.63 L358.75 173.63 L359.86 173.63 L360.97 173.63 L362.08 173.63 L363.19 173.63 L364.30 173.63 L365.41 173.63 L366.52 173.63 L367.62 173.63 L368.73 173.63 L369.84 173.63 L370.95 173.63 L372.06 173.63 L373.16 173.63 L374.27 173.64 L375.38 173.64 L376.48 173.64 L377.59 173.64 L378.70 173.64 L379.80 173.63 L380.91 173.63 L382.02 173.63 L383.12 173.63 L384.23 173.63 L385.33 173.62 L386.43 173.62 L387.54 173.62 L388.64 173.61 L389.75 173.61 L390.85 173.60 L391.95 173.59 L393.05 173.58 L394.16 173.57 L395.26 173.56 L396.36 173.55 L397.46 173.54 L398.56 173.53 L399.66 173.51 L400.76 173.50 L401.86 173.48 L402.96 173.47 L404.05 173.45 L405.15 173.43 L406.25 173.41 L407.35 173.38 L408.44 173.36 L409.54 173.33 L410.63 173.31 L411.73 173.28 L412.82 173.25 L413.92 173.22 L415.01 173.18 L416.10 173.15 L417.19 173.11 L418.28 173.07 L419.38 173.03 L420.47 172.99" stroke="#0f0" stroke-width="3.1" stroke-dasharray="6 7.6" stroke-dashoffset="0.3"/>
<path d="M63.69 40.09 L63.78 41.20 L63.87 42.31 L63.96 43.42 L64.05 44.53 L64.14 45.64 L64.24 46.75 L64.33 47.86 L64.42 48.97 L64.52 50.09 L64.61 51.20 L64.71 52.32 L64.80 53.44 L64.90 54.55 L64.99 55.67 L65.09 56.79 L65.19 57.91 L65.28 59.03 L65.38 60.15 L65.48 61.28 L65.58 62.40 L65.68 63.52 L65.78 64.65 L65.88 65.77 L65.98 66.90 L66.08 68.02 L66.18 69.15 L66.28 70.27 L66.38 71.40 L66.49 72.53 L66.59 73.66 L66.69 74.79 L66.80 75.92 L66.90 77.05 L67.01 78.18 L67.11 79.31 L67.22 80.44 L67.33 81.57 L67.43 82.70 L67.54 83.83 L67.65 84.96 L67.76 86.10 L67.87 87.23 L67.98 88.36 L68.09 89.49 L68.20 90.63 L68.31 91.76 L68.42 92.89 L68.53 94.03 L68.65 95.16 L68.76 96.30 L68.88 97.43 L68.99 98.56 L69.11 99.70 L69.22 100.83 L69.34 101.97 L69.45 103.10 L69.57 104.23 L69.69 105.37 L69.81 106.50 L69.93 107.64 L70.05 108.77 L70.17 109.90 L70.29 111.04 L70.41 112.17 L70.53 113.30 L70.66 114.44 L70.78 115.57 L70.90 116.70 L71.03 117.83 L71.15 118.96 L71.28 120.10 L71.41 121.23 L71.53 122.36 L71.66 123.49 L71.79 124.62 L71.92 125.75 L72.05 126.88 L72.18 128.01 L72.31 129.14 L72.44 130.26 L72.58 131.39 L72.71 132.52 L72.84 133.64 L72.98 134.77 L73.11 135.90 L73.25 137.02 L73.38 138.14 L73.52 139.27 L73.66 140.39 L73.80 141.51 L73.94 142.63 L74.08 143.76 L74.22 144.88 L74.36 146.00 L74.50 147.11 L74.65 148.23 L74.79 149.35 L74.93 150.46 L75.08 151.58 L75.22 152.69 L75.37 153.81 L75.52 154.92 L75.67 156.03 L75.81 157.14 L75.96 158.25 L76.11 159.36 L76.27 160.47 L76.42 161.58 L76.57 162.68 L76.72 163.79 L76.88 164.89 L77.04 166.00 L77.19 167.10 L77.35 168.20 L77.52 169.30 L77.68 170.40 L77.85 171.50 L78.02 172.60 L78.19 173.70 L78.36 174.80 L78.54 175.90 L78.72 177.00 L78.90 178.10 L79.09 179.19 L79.28 180.29 L79.47 181.39 L79.67 182.48 L79.87 183.58 L80.08 184.68 L80.29 185.77 L80.50 186.87 L80.72 187.96 L80.95 189.06 L81.17 190.16 L81.41 191.25 L81.65 192.35 L81.89 193.45 L82.14 194.54 L82.40 195.64 L82.66 196.74 L82.93 197.84 L83.21 198.94 L83.49 200.04 L83.78 201.14 L84.07 202.24 L84.37 203.34 L84.68 204.44 L85.00 205.54 L85.32 206.65 L85.65 207.75 L85.99 208.86 L86.34 209.96 L86.69 211.07 L87.05 212.18 L87.42 213.29 L87.80 214.40 L88.19 215.51 L88.59 216.62 L88.99 217.73 L89.41 218.85 L89.83 219.96 L90.27 221.07 L90.72 222.17 L91.18 223.27 L91.65 224.37 L92.13 225.45 L92.63 226.53 L93.14 227.59 L93.66 228.64 L94.20 229.68 L94.76 230.71 L95.33 231.71 L95.91 232.70 L96.52 233.68 L97.14 234.63 L97.78 235.56 L98.44 236.46 L99.11 237.34 L99.81 238.20 L100.53 239.03 L101.26 239.83 L102.02 240.60 L102.80 241.34 L103.60 242.05 L104.43 242.73 L105.27 243.37 L106.14 243.97 L107.04 244.54 L107.96 245.06 L108.91 245.55 L109.88 245.99 L110.88 246.39 L111.90 246.75 L112.94 247.06 L114.00 247.33 L115.08 247.54 L116.17 247.71 L117.26 247.83 L118.36 247.89 L119.47 247.91 L120.57 247.87 L121.67 247.78 L122.76 247.63 L123.84 247.42 L124.91 247.16 L125.96 246.85 L127.01 246.49 L128.05 246.09 L129.07 245.64 L130.09 245.16 L131.10 244.63 L132.09 244.08 L133.08 243.49 L134.06 242.88 L135.02 242.24 L135.98 241.58 L136.93 240.91 L137.87 240.21 L138.80 239.51 L139.72 238.79 L140.63 238.06 L141.54 237.33 L142.43 236.60 L143.32 235.86 L144.20 235.11 L145.07 234.35 L145.93 233.59 L146.78 232.83 L147.63 232.06 L148.48 231.28 L149.31 230.50 L150.14 229.72 L150.96 228.93 L151.78 228.13 L152.59 227.34 L153.39 226.53 L154.19 225.73 L154.98 224.92 L155.77 224.10 L156.56 223.29 L157.34 222.47 L158.11 221.64 L158.88 220.82 L159.65 219.99 L160.41 219.15 L161.17 218.32 L161.93 217.48 L162.68 216.64 L163.43 215.80 L164.18 214.96 L164.93 214.11 L165.67 213.27 L166.42 212.42 L167.16 211.57 L167.89 210.72 L168.63 209.87 L169.37 209.02 L170.10 208.16 L170.84 207.31 L171.57 206.46 L172.31 205.60 L173.04 204.75 L173.78 203.90 L174.51 203.05 L175.25 202.19 L175.98 201.34 L176.72 200.49 L177.46 199.64 L178.20 198.79 L178.94 197.95 L179.69 197.10 L180.44 196.26 L181.18 195.41 L181.94 194.57 L182.69 193.74 L183.45 192.90 L184.21 192.07 L184.97 191.23 L185.74 190.41 L186.51 189.58 L187.29 188.76 L188.07 187.94 L188.86 187.12 L189.65 186.31 L190.44 185.50 L191.24 184.70 L192.05 183.90 L192.86 183.10 L193.68 182.31 L194.50 181.53 L195.33 180.74 L196.17 179.97 L197.01 179.20 L197.86 178.43 L198.72 177.68 L199.59 176.94 L200.46 176.20 L201.34 175.48 L202.23 174.77 L203.13 174.08 L204.04 173.40 L204.95 172.73 L205.88 172.08 L206.81 171.45 L207.76 170.84 L208.71 170.24 L209.68 169.67 L210.65 169.12 L211.63 168.58 L212.63 168.06 L213.63 167.56 L214.63 167.08 L215.65 166.60 L216.67 166.14 L217.70 165.70 L218.73 165.26 L219.77 164.83 L220.81 164.41 L221.85 163.99 L222.90 163.58 L223.95 163.18 L225.00 162.78 L226.05 162.38 L227.11 161.98 L228.16 161.58 L229.22 161.19 L230.28 160.80 L231.34 160.42 L232.40 160.03 L233.47 159.65 L234.53 159.27 L235.60 158.90 L236.67 158.52 L237.73 158.15 L238.80 157.78 L239.88 157.41 L240.95 157.05 L242.02 156.69 L243.09 156.33 L244.17 155.97 L245.25 155.62 L246.32 155.27 L247.40 154.92 L248.48 154.57 L249.56 154.22 L250.64 153.88 L251.72 153.54 L252.80 153.20 L253.89 152.86 L254.97 152.53 L256.05 152.20 L257.14 151.86 L258.22 151.54 L259.31 151.21 L260.40 150.89 L261.48 150.56 L262.57 150.24 L263.66 149.93 L264.74 149.61 L265.83 149.30 L266.92 148.99 L268.01 148.68 L269.10 148.37 L270.19 148.06 L271.28 147.76 L272.37 147.46 L273.47 147.16 L274.56 146.86 L275.65 146.56 L276.74 146.27 L277.84 145.98 L278.93 145.69 L280.03 145.40 L281.12 145.12 L282.22 144.83 L283.31 144.55 L284.41 144.27 L285.50 143.99 L286.60 143.72 L287.70 143.44 L288.80 143.17 L289.89 142.90 L290.99 142.63 L292.09 142.36 L293.19 142.10 L294.29 141.84 L295.39 141.57 L296.49 141.32 L297.59 141.06 L298.69 140.80 L299.80 140.55 L300.90 140.30 L302.00 140.05 L303.10 139.80 L304.21 139.55 L305.31 139.31 L306.41 139.07 L307.52 138.82 L308.62 138.59 L309.73 138.35 L310.83 138.11 L311.94 137.88 L313.05 137.65 L314.15 137.42 L315.26 137.19 L316.37 136.96 L317.48 136.74 L318.58 136.51 L319.69 136.29 L320.80 136.07 L321.91 135.85 L323.02 135.64 L324.13 135.42 L325.24 135.21 L326.35 135.00 L327.46 134.79 L328.57 134.58 L329.68 134.38 L330.79 134.17 L331.91 133.97 L333.02 133.77 L334.13 133.57 L335.24 133.37 L336.36 133.17 L337.47 132.98 L338.58 132.79 L339.70 132.60 L340.81 132.41 L341.93 132.22 L343.04 132.03 L344.16 131.85 L345.27 131.66 L346.39 131.48 L347.50 131.30 L348.62 131.12 L349.74 130.95 L350.85 130.77 L351.97 130.60 L353.09 130.42 L354.21 130.25 L355.32 130.08 L356.44 129.92 L357.56 129.75 L358.68 129.58 L359.80 129.42 L360.92 129.26 L362.04 129.10 L363.16 128.94 L364.28 128.78 L365.40 128.63 L366.52 128.47 L367.64 128.32 L368.76 128.17 L369.88 128.02 L371.00 127.87 L372.12 127.72 L373.24 127.58 L374.37 127.43 L375.49 127.29 L376.61 127.15 L377.73 127.01 L378.86 126.87 L379.98 126.73 L381.10 126.60 L382.23 126.46 L383.35 126.33 L384.47 126.20 L385.60 126.07 L386.72 125.94 L387.85 125.81 L388.97 125.69 L390.09 125.56 L391.22 125.44 L392.34 125.32 L393.47 125.20 L394.59 125.08 L395.72 124.96 L396.85 124.84 L397.97 124.73 L399.10 124.61 L400.22 124.50 L401.35 124.39 L402.48 124.28 L403.60 124.17 L404.73 124.06 L405.86 123.95 L406.98 123.85 L408.11 123.74 L409.24 123.64 L410.37 123.54 L411.49 123.44 L412.62 123.34 L413.75 123.24 L414.88 123.14 L416.00 123.05 L417.13 122.95 L418.26 122.86 L419.39 122.77 L420.52 122.68" stroke="#000" stroke-width="2.3" stroke-dasharray="8.3 9.92" stroke-dashoffset="5.22"/>
<path d="M63.68 40.03 L63.77 41.14 L63.86 42.25 L63.95 43.36 L64.04 44.47 L64.13 45.58 L64.22 46.69 L64.32 47.81 L64.41 48.92 L64.50 50.03 L64.60 51.14 L64.69 52.26 L64.79 53.37 L64.88 54.48 L64.98 55.60 L65.07 56.71 L65.17 57.83 L65.27 58.94 L65.36 60.06 L65.46 61.18 L65.56 62.29 L65.66 63.41 L65.76 64.53 L65.86 65.64 L65.96 66.76 L66.06 67.88 L66.16 69.00 L66.27 70.11 L66.37 71.23 L66.47 72.35 L66.58 73.47 L66.68 74.59 L66.78 75.71 L66.89 76.83 L66.99 77.95 L67.10 79.07 L67.21 80.19 L67.31 81.30 L67.42 82.42 L67.53 83.54 L67.64 84.66 L67.75 85.78 L67.85 86.90 L67.96 88.03 L68.07 89.15 L68.19 90.27 L68.30 91.39 L68.41 92.51 L68.52 93.63 L68.63 94.75 L68.75 95.87 L68.86 96.99 L68.97 98.11 L69.09 99.23 L69.20 100.35 L69.32 101.47 L69.43 102.59 L69.55 103.71 L69.67 104.83 L69.78 105.95 L69.90 107.07 L70.02 108.19 L70.14 109.30 L70.26 110.42 L70.38 111.54 L70.50 112.66 L70.62 113.78 L70.74 114.90 L70.86 116.01 L70.98 117.13 L71.10 118.25 L71.22 119.37 L71.35 120.48 L71.47 121.60 L71.59 122.72 L71.72 123.83 L71.84 124.95 L71.97 126.06 L72.09 127.18 L72.22 128.29 L72.35 129.41 L72.47 130.52 L72.60 131.64 L72.73 132.75 L72.86 133.86 L72.99 134.98 L73.12 136.09 L73.25 137.20 L73.38 138.31 L73.51 139.42 L73.64 140.53 L73.77 141.64 L73.90 142.75 L74.03 143.86 L74.17 144.97 L74.30 146.08 L74.44 147.18 L74.57 148.29 L74.71 149.40 L74.85 150.51 L74.99 151.61 L75.13 152.72 L75.27 153.82 L75.41 154.93 L75.56 156.03 L75.71 157.14 L75.85 158.24 L76.00 159.35 L76.16 160.45 L76.31 161.55 L76.47 162.66 L76.62 163.76 L76.78 164.86 L76.94 165.97 L77.11 167.07 L77.27 168.17 L77.44 169.27 L77.61 170.37 L77.79 171.47 L77.96 172.58 L78.14 173.68 L78.32 174.78 L78.51 175.88 L78.69 176.98 L78.88 178.08 L79.08 179.18 L79.27 180.28 L79.47 181.38 L79.68 182.48 L79.88 183.58 L80.09 184.68 L80.30 185.78 L80.52 186.88 L80.74 187.98 L80.96 189.08 L81.19 190.18 L81.42 191.28 L81.66 192.38 L81.89 193.47 L82.14 194.57 L82.38 195.67 L82.63 196.77 L82.89 197.87 L83.15 198.97 L83.41 200.07 L83.68 201.17 L83.96 202.27 L84.23 203.37 L84.52 204.47 L84.80 205.57 L85.09 206.67 L85.39 207.77 L85.69 208.87 L86.00 209.97 L86.31 211.07 L86.63 212.17 L86.96 213.26 L87.29 214.36 L87.63 215.45 L87.98 216.53 L88.34 217.62 L88.71 218.70 L89.09 219.77 L89.48 220.83 L89.89 221.89 L90.30 222.95 L90.73 223.99 L91.17 225.03 L91.62 226.06 L92.09 227.08 L92.57 228.08 L93.07 229.08 L93.58 230.07 L94.11 231.04 L94.66 232.00 L95.22 232.95 L95.81 233.89 L96.41 234.81 L97.03 235.71 L97.67 236.60 L98.34 237.48 L99.02 238.33 L99.72 239.17 L100.45 240.00 L101.20 240.80 L101.98 241.59 L102.77 242.35 L103.59 243.10 L104.44 243.82 L105.31 244.52 L106.21 245.20 L107.13 245.84 L108.07 246.45 L109.04 247.01 L110.03 247.54 L111.04 248.01 L112.06 248.43 L113.11 248.79 L114.18 249.09 L115.27 249.32 L116.37 249.48 L117.49 249.56 L118.62 249.57 L119.76 249.51 L120.90 249.39 L122.04 249.21 L123.15 248.98 L124.26 248.70 L125.34 248.38 L126.41 248.01 L127.45 247.61 L128.49 247.17 L129.50 246.69 L130.51 246.19 L131.50 245.65 L132.47 245.09 L133.44 244.50 L134.39 243.89 L135.33 243.27 L136.26 242.62 L137.18 241.96 L138.09 241.29 L139.00 240.60 L139.90 239.91 L140.79 239.22 L141.68 238.52 L142.56 237.81 L143.43 237.11 L144.30 236.39 L145.16 235.67 L146.02 234.95 L146.87 234.22 L147.72 233.49 L148.56 232.76 L149.40 232.02 L150.24 231.28 L151.07 230.54 L151.90 229.79 L152.73 229.04 L153.55 228.28 L154.37 227.53 L155.19 226.77 L156.00 226.01 L156.81 225.24 L157.63 224.48 L158.43 223.71 L159.24 222.94 L160.05 222.16 L160.85 221.39 L161.66 220.61 L162.46 219.84 L163.27 219.06 L164.07 218.28 L164.87 217.50 L165.67 216.72 L166.47 215.93 L167.28 215.15 L168.08 214.36 L168.88 213.58 L169.68 212.79 L170.48 212.01 L171.28 211.22 L172.08 210.43 L172.88 209.65 L173.69 208.86 L174.49 208.08 L175.29 207.29 L176.10 206.50 L176.90 205.72 L177.71 204.93 L178.51 204.15 L179.32 203.37 L180.13 202.59 L180.94 201.81 L181.75 201.03 L182.56 200.25 L183.38 199.47 L184.20 198.69 L185.01 197.92 L185.83 197.15 L186.65 196.38 L187.48 195.61 L188.30 194.84 L189.13 194.08 L189.96 193.31 L190.79 192.55 L191.63 191.80 L192.46 191.04 L193.30 190.29 L194.14 189.54 L194.99 188.79 L195.84 188.05 L196.69 187.31 L197.54 186.57 L198.40 185.84 L199.26 185.11 L200.12 184.38 L200.99 183.66 L201.86 182.95 L202.73 182.24 L203.61 181.53 L204.49 180.83 L205.37 180.14 L206.26 179.46 L207.16 178.78 L208.05 178.11 L208.96 177.44 L209.86 176.79 L210.77 176.14 L211.69 175.50 L212.61 174.87 L213.53 174.25 L214.46 173.64 L215.40 173.04 L216.34 172.45 L217.28 171.87 L218.24 171.30 L219.19 170.75 L220.15 170.20 L221.12 169.67 L222.09 169.15 L223.07 168.64 L224.06 168.15 L225.05 167.67 L226.05 167.20 L227.05 166.75 L228.06 166.31 L229.08 165.88 L230.10 165.48 L231.13 165.08 L232.17 164.71 L233.21 164.34 L234.26 163.99 L235.31 163.66 L236.37 163.34 L237.44 163.03 L238.51 162.73 L239.58 162.45 L240.66 162.18 L241.75 161.91 L242.84 161.66 L243.93 161.42 L245.03 161.19 L246.13 160.96 L247.23 160.75 L248.34 160.54 L249.45 160.35 L250.56 160.15 L251.68 159.97 L252.80 159.79 L253.92 159.62 L255.04 159.45 L256.16 159.29 L257.29 159.14 L258.41 158.98 L259.54 158.83 L260.67 158.69 L261.80 158.55 L262.93 158.40 L264.05 158.27 L265.18 158.13 L266.31 157.99 L267.44 157.85 L268.57 157.72 L269.70 157.58 L270.82 157.45 L271.95 157.31 L273.07 157.18 L274.20 157.04 L275.32 156.91 L276.45 156.78 L277.57 156.64 L278.69 156.51 L279.82 156.38 L280.94 156.24 L282.06 156.11 L283.18 155.98 L284.30 155.85 L285.42 155.72 L286.54 155.59 L287.66 155.46 L288.78 155.33 L289.90 155.20 L291.02 155.07 L292.14 154.94 L293.26 154.82 L294.38 154.69 L295.49 154.56 L296.61 154.44 L297.73 154.31 L298.84 154.18 L299.96 154.06 L301.07 153.93 L302.19 153.81 L303.30 153.69 L304.42 153.56 L305.53 153.44 L306.65 153.32 L307.76 153.19 L308.88 153.07 L309.99 152.95 L311.10 152.83 L312.22 152.71 L313.33 152.59 L314.44 152.47 L315.55 152.35 L316.67 152.24 L317.78 152.12 L318.89 152.00 L320.00 151.89 L321.11 151.77 L322.23 151.65 L323.34 151.54 L324.45 151.43 L325.56 151.31 L326.67 151.20 L327.78 151.09 L328.89 150.97 L330.00 150.86 L331.12 150.75 L332.23 150.64 L333.34 150.53 L334.45 150.42 L335.56 150.31 L336.67 150.20 L337.78 150.10 L338.89 149.99 L340.00 149.88 L341.11 149.78 L342.22 149.67 L343.33 149.57 L344.44 149.46 L345.55 149.36 L346.67 149.26 L347.78 149.15 L348.89 149.05 L350.00 148.95 L351.11 148.85 L352.22 148.75 L353.33 148.65 L354.44 148.56 L355.55 148.46 L356.67 148.36 L357.78 148.26 L358.89 148.17 L360.00 148.07 L361.11 147.98 L362.23 147.89 L363.34 147.79 L364.45 147.70 L365.57 147.61 L366.68 147.52 L367.79 147.43 L368.91 147.34 L370.02 147.25 L371.13 147.16 L372.25 147.07 L373.36 146.99 L374.48 146.90 L375.59 146.82 L376.71 146.73 L377.82 146.65 L378.94 146.56 L380.06 146.48 L381.17 146.40 L382.29 146.32 L383.41 146.24 L384.52 146.16 L385.64 146.08 L386.76 146.00 L387.88 145.93 L389.00 145.85 L390.12 145.78 L391.24 145.70 L392.36 145.63 L393.48 145.55 L394.60 145.48 L395.72 145.41 L396.84 145.34 L397.97 145.27 L399.09 145.20 L400.21 145.13 L401.34 145.06 L402.46 145.00 L403.58 144.93 L404.71 144.87 L405.83 144.80 L406.96 144.74 L408.09 144.68 L409.22 144.62 L410.34 144.55 L411.47 144.49 L412.60 144.44 L413.73 144.38 L414.86 144.32 L415.99 144.26 L417.12 144.21 L418.25 144.15 L419.39 144.10 L420.52 144.05" stroke="#f00" stroke-width="2.3" stroke-dasharray="3.6 5.515" stroke-dashoffset="-2.42"/>
</g>
<g stroke="#000" fill="none">
<line x1="63.5" y1="9.4" x2="63.5" y2="269.8" stroke-width="1"/>
<line x1="420.5" y1="9.4" x2="420.5" y2="269.8" stroke-width="1"/>
<line x1="63.0" y1="9.9" x2="421.0" y2="9.9" stroke-width="1" stroke="#222"/>
<line x1="63.0" y1="269.3" x2="421.0" y2="269.3" stroke-width="1.05" stroke="#111"/>
<line x1="63.5" y1="53.13" x2="67.2" y2="53.13" stroke-width="0.8" stroke="#222"/>
<line x1="420.5" y1="53.13" x2="416.6" y2="53.13" stroke-width="0.8" stroke="#222"/>
<line x1="63.5" y1="96.37" x2="67.2" y2="96.37" stroke-width="0.8" stroke="#222"/>
<line x1="420.5" y1="96.37" x2="416.6" y2="96.37" stroke-width="0.8" stroke="#222"/>
<line x1="63.5" y1="139.60" x2="67.2" y2="139.60" stroke-width="0.8" stroke="#222"/>
<line x1="420.5" y1="139.60" x2="416.6" y2="139.60" stroke-width="0.8" stroke="#222"/>
<line x1="63.5" y1="182.83" x2="67.2" y2="182.83" stroke-width="0.8" stroke="#222"/>
<line x1="420.5" y1="182.83" x2="416.6" y2="182.83" stroke-width="0.8" stroke="#222"/>
<line x1="63.5" y1="226.07" x2="67.2" y2="226.07" stroke-width="0.8" stroke="#222"/>
<line x1="420.5" y1="226.07" x2="416.6" y2="226.07" stroke-width="0.8" stroke="#222"/>
<line x1="123" y1="269.3" x2="123" y2="265.1" stroke-width="0.9" stroke="#222"/>
<line x1="123" y1="9.9" x2="123" y2="14.100000000000001" stroke-width="0.9" stroke="#222"/>
<line x1="242" y1="269.3" x2="242" y2="265.1" stroke-width="0.9" stroke="#222"/>
<line x1="242" y1="9.9" x2="242" y2="14.100000000000001" stroke-width="0.9" stroke="#222"/>
<line x1="361" y1="269.3" x2="361" y2="265.1" stroke-width="0.9" stroke="#222"/>
<line x1="361" y1="9.9" x2="361" y2="14.100000000000001" stroke-width="0.9" stroke="#222"/>
</g>
<g fill="none" stroke-width="2.1">
<line x1="80.1" y1="29.90" x2="103.9" y2="29.90" stroke="#000" stroke-width="2.1"/>
<line x1="80.1" y1="48.70" x2="103.9" y2="48.70" stroke="#f00" stroke-width="2.1"/>
<line x1="80.1" y1="67.50" x2="103.9" y2="67.50" stroke="#0f0" stroke-width="2.1"/>
<line x1="80.1" y1="86.30" x2="103.9" y2="86.30" stroke="#00f" stroke-width="2.1"/>
<line x1="80.1" y1="105.10" x2="103.9" y2="105.10" stroke="#0f0" stroke-width="3.1" stroke-dasharray="5.8 7.7"/>
<line x1="80.1" y1="123.90" x2="103.9" y2="123.90" stroke="#000" stroke-width="2.3" stroke-dasharray="6.9 11"/>
<line x1="80.1" y1="142.70" x2="103.9" y2="142.70" stroke="#f00" stroke-width="2.3" stroke-dasharray="3.6 5.35"/>
</g>
<g font-family="Liberation Sans, sans-serif" font-size="13.25" fill="#000" style="filter:grayscale(1)">
<text font-size="13.27" transform="translate(111.90 34.40) scale(1 1.08)" text-anchor="start">FCI</text>
<text font-size="13.27" transform="translate(111.90 53.20) scale(1 1.08)" text-anchor="start">MP2</text>
<text font-size="13.27" transform="translate(111.90 72.00) scale(1 1.08)" text-anchor="start">CASSCF(4e,4o)</text>
<text font-size="13.27" transform="translate(111.90 90.80) scale(1 1.08)" text-anchor="start">NEVPT2(4e,4o)</text>
<text font-size="13.27" transform="translate(111.90 109.60) scale(1 1.08)" text-anchor="start">NEVPT2(6e,6o)</text>
<text font-size="13.27" transform="translate(111.90 128.40) scale(1 1.08)" text-anchor="start">GF2</text>
<text font-size="13.27" transform="translate(111.90 147.20) scale(1 1.08)" text-anchor="start">SEET(FCI/GF2)(4e,4o)</text>
<text transform="translate(58.55 15.15) scale(1 1.08)" text-anchor="end">–2.20</text>
<text transform="translate(58.55 58.38) scale(1 1.08)" text-anchor="end">–2.40</text>
<text transform="translate(58.55 101.62) scale(1 1.08)" text-anchor="end">–2.60</text>
<text transform="translate(58.55 144.85) scale(1 1.08)" text-anchor="end">–2.80</text>
<text transform="translate(58.55 188.08) scale(1 1.08)" text-anchor="end">–3.00</text>
<text transform="translate(58.55 231.32) scale(1 1.08)" text-anchor="end">–3.20</text>
<text transform="translate(58.55 274.55) scale(1 1.08)" text-anchor="end">–3.40</text>
<text transform="translate(136.00 281.80) scale(1 1.08)" text-anchor="middle">2.0</text>
<text transform="translate(254.90 281.80) scale(1 1.08)" text-anchor="middle">4.0</text>
<text transform="translate(373.60 281.80) scale(1 1.08)" text-anchor="middle">6.0</text>
<text transform="translate(242.00 298.00) scale(1 1.08)" text-anchor="middle">R(H–H) [a.u.]</text>
<text transform="translate(13.00 139.50) rotate(-90) scale(1 1.08)" text-anchor="middle">Energy [a.u.]</text>
</g>
</svg>
</div></body></html>
